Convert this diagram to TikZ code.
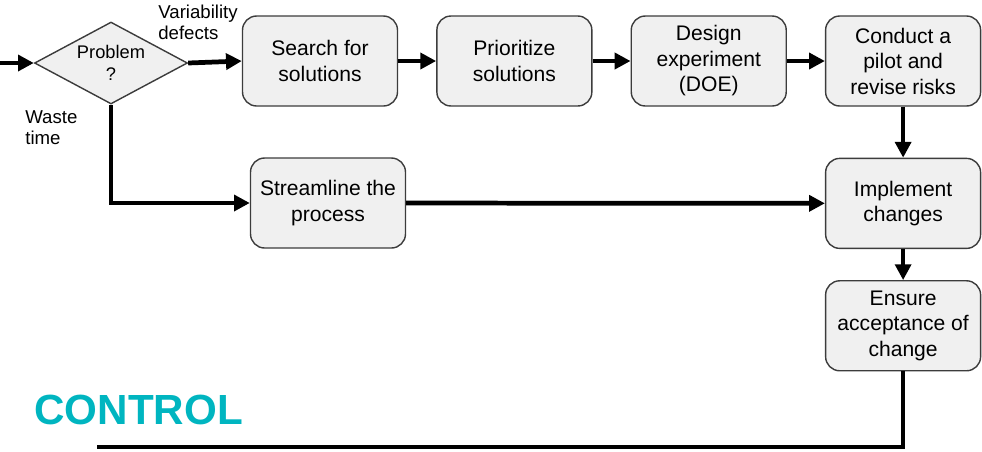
\documentclass[tikz,border=0pt]{standalone}
\usepackage{fontspec}
\setmainfont{Liberation Sans}
\usepackage{tikz}
\usetikzlibrary{shapes.geometric, arrows.meta, positioning}
\definecolor{boxgray}{RGB}{240, 240, 240}
\definecolor{edgegray}{RGB}{60, 60, 60}
\definecolor{controlteal}{RGB}{0, 181, 192}

\begin{document}
\begin{tikzpicture}[
        x=0.02cm, y=-0.02cm,
        node distance=0.76cm,
        stepbox/.style={rectangle, draw=edgegray, fill=boxgray, line width=0.8pt, minimum width=3.1cm, minimum height=1.8cm, align=center, rounded corners=8pt, font=\fontsize{12}{14.5}\selectfont},
        decision/.style={diamond, draw=edgegray, fill=boxgray, line width=0.8pt, shape aspect=1.87, minimum width=3.06cm, minimum height=1.64cm, inner sep=0pt, align=center, font=\fontsize{10.4}{12.5}\selectfont},
        flow/.style={line width=2.7pt, -{Triangle[length=9pt, width=9pt]}},
        note/.style={align=left, inner sep=0pt, font=\fontsize{10.6}{12}\selectfont}
    ]
        \useasboundingbox (0,0) rectangle (982,451);

        % Decision
        \node[decision] (problem) at (111,63) {Problem\\?};
        \coordinate (entry) at (0,63);
        \node[note, anchor=north west] (variability) at (158,5) {Variability\\defects};
        \node[note, anchor=north west] (waste) at (25,110) {Waste\\time};

        % Improve row
        \node[stepbox] (search) at (320,61) {Search for\\solutions};
        \node[stepbox, right=of search] (prioritize) {Prioritize\\solutions};
        \node[stepbox, right=of prioritize] (design) {Design\\experiment\\(DOE)};
        \node[stepbox, right=of design] (pilot) {Conduct a\\pilot and\\revise risks};
        \node[stepbox, below=1.02cm of pilot] (implement) {Implement\\changes};
        \node[stepbox, below=0.62cm of implement] (ensure) {Ensure\\acceptance of\\change};

        % Waste path
        \node[stepbox] (streamline) at (328,203) {Streamline the\\process};

        % Control
        \node[font=\fontsize{24}{28}\selectfont\bfseries, text=controlteal, anchor=west, inner sep=0pt] (control) at (34,410) {CONTROL};
        \coordinate (controlend) at (97,447);

        % Connectors
        \draw[flow] (entry) -- (problem.west);
        \draw[flow] (problem.east) -- (search.west);
        \draw[flow] (search) -- (prioritize);
        \draw[flow] (prioritize) -- (design);
        \draw[flow] (design) -- (pilot);
        \draw[flow] (pilot) -- (implement);
        \draw[flow] (implement) -- (ensure);
        \draw[flow] (problem.south) |- (streamline.west);
        \draw[flow] (streamline) -- (implement);
        \draw[line width=2.7pt] (ensure.south) |- (controlend);
    \end{tikzpicture}
\end{document}
